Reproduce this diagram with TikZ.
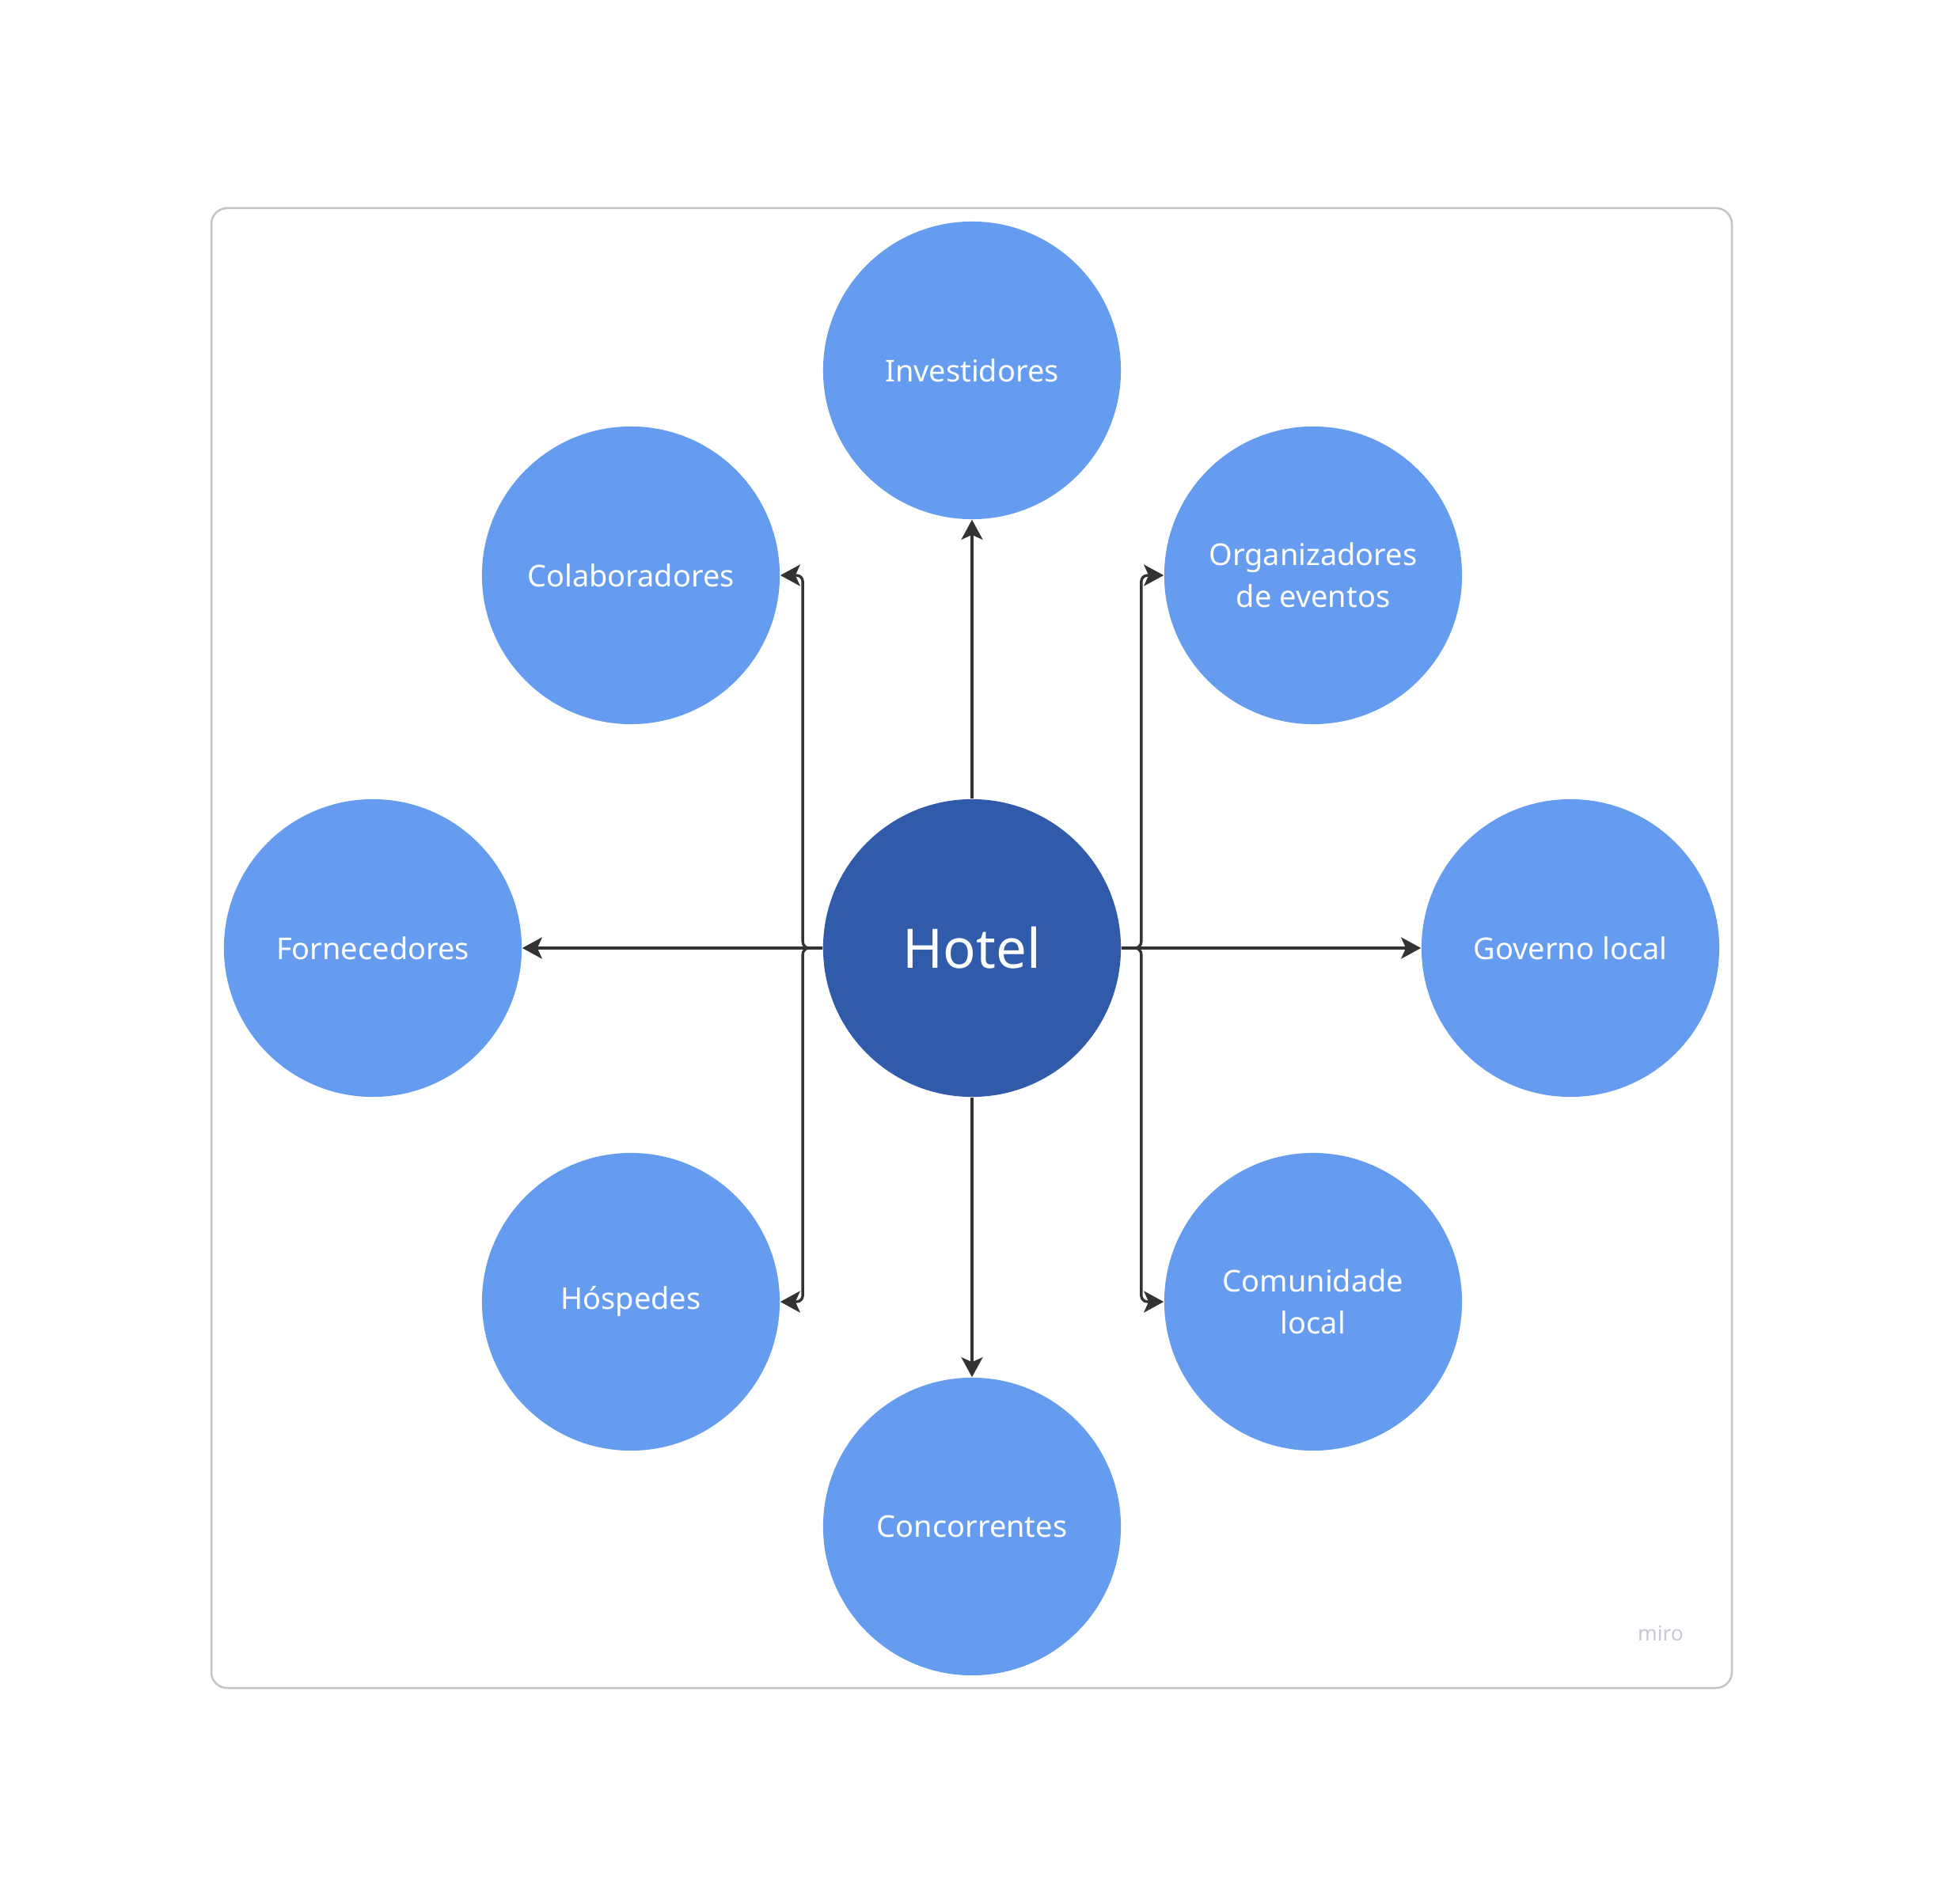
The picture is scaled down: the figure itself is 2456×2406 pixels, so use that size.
\documentclass[tikz,border=0pt]{standalone}
\usepackage{fontspec}
\setmainfont{Noto Sans}
\usetikzlibrary{arrows.meta}

\definecolor{miroblue}{HTML}{659CF0}
\definecolor{hotelblue}{HTML}{305BAB}
\definecolor{linkgray}{HTML}{333333}
\definecolor{framegray}{HTML}{C4C4C4}
\definecolor{logogray}{HTML}{C8C8D6}

\begin{document}
\begin{tikzpicture}[x=0.01cm, y=-0.01cm,
    stake/.style={circle, fill=miroblue, minimum size=3.76cm, inner sep=0pt,
                  text=white, align=center,
                  font=\fontsize{10.8}{15}\selectfont},
    core/.style={stake, fill=hotelblue, font=\fontsize{19.6}{24}\selectfont},
    link/.style={draw=linkgray, line width=0.034cm,
                 -{Stealth[length=0.25cm, width=0.27cm, inset=0.06cm]}},
    elbow/.style={link, rounded corners=0.08cm}]
    \useasboundingbox (0,0) rectangle (2456,2406);
    \draw[framegray, line width=0.025cm, rounded corners=0.2cm]
        (267,263) rectangle (2188,2133);
    \node[text=logogray, font=\fontsize{7.5}{9}\selectfont] (logo) at (2098,2064) {miro};

    \node[core]  (hotel) at (1228,1198) {Hotel};
    \node[stake] (inv)   at (1228,468)  {Investidores};
    \node[stake] (colab) at (797,727)   {Colaboradores};
    \node[stake] (org)   at (1659,727)  {Organizadores\\de eventos};
    \node[stake] (forn)  at (471,1198)  {Fornecedores};
    \node[stake] (gov)   at (1984,1198) {Governo local};
    \node[stake] (hosp)  at (797,1645)  {Hóspedes};
    \node[stake] (comu)  at (1659,1645) {Comunidade\\local};
    \node[stake] (conc)  at (1228,1929) {Concorrentes};

    \draw[link] (hotel.north) -- (inv.south);
    \draw[link] (hotel.south) -- (conc.north);
    \draw[link] (hotel.west) -- (forn.east);
    \draw[link] (hotel.east) -- (gov.west);
    \draw[elbow] (hotel.west) -- ++(-25,0) |- (colab.east);
    \draw[elbow] (hotel.west) -- ++(-25,0) |- (hosp.east);
    \draw[elbow] (hotel.east) -- ++(25,0) |- (org.west);
    \draw[elbow] (hotel.east) -- ++(25,0) |- (comu.west);
\end{tikzpicture}
\end{document}
